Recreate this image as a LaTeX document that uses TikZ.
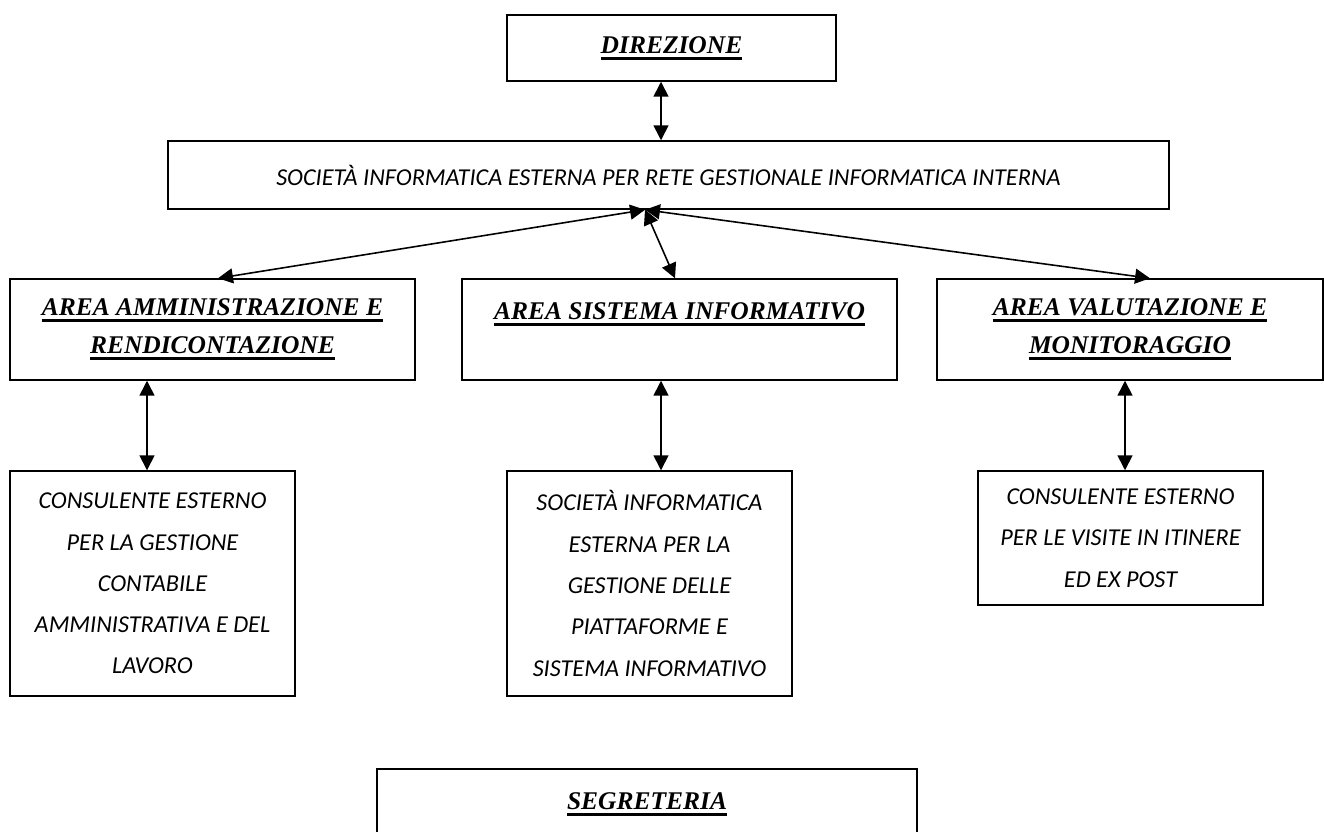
\documentclass[tikz,border=0pt]{standalone}
\usepackage{fontspec}
\setmainfont{Liberation Serif}
\newfontfamily\bodyfont{Carlito}
\usetikzlibrary{arrows.meta}

% thick underline for the titles
\newcommand{\titul}[1]{\setbox0\hbox{#1}\leavevmode\rlap{\rule[-3.7pt]{\wd0}{1.6pt}}\box0}

\begin{document}
\begin{tikzpicture}[x=0.02cm,y=-0.02cm,
    box/.style={draw,line width=0.85pt,inner sep=0pt,align=center},
    title/.style={box,font=\fontsize{14.5}{21.5}\selectfont\bfseries\itshape},
    body/.style={box,font=\bodyfont\itshape\fontsize{13.8}{23.5}\selectfont},
    link/.style={{Triangle[length=8.5pt,width=8.5pt]}-{Triangle[length=8.5pt,width=8.5pt]},line width=0.9pt}]
  \useasboundingbox (0,0) rectangle (1324,831);
  \clip (0,0) rectangle (1324,831);

  % top
  \node[title,minimum width=6.58cm,minimum height=1.32cm] (dir) at (671.5,48) {\titul{DIREZIONE}};
  \node[body,minimum width=20.02cm,minimum height=1.36cm] (soc) at (668.5,175)
       {SOCIETÀ INFORMATICA ESTERNA PER RETE GESTIONALE INFORMATICA INTERNA};

  % areas
  \node[title,minimum width=8.1cm,minimum height=2.02cm] (amm) at (212.5,329.5)
       {\titul{AREA AMMINISTRAZIONE E}\\\titul{RENDICONTAZIONE}};
  \node[title,minimum width=8.7cm,minimum height=2.02cm] (sis) at (679.5,329.5)
       {\titul{AREA SISTEMA INFORMATIVO}\\\mbox{}};
  \node[title,minimum width=7.72cm,minimum height=2.02cm] (val) at (1130,329.5)
       {\titul{AREA VALUTAZIONE E}\\\titul{MONITORAGGIO}};

  % consultants
  \node[body,minimum width=5.7cm,minimum height=4.5cm] (cons) at (152.5,583.5)
       {CONSULENTE ESTERNO\\PER LA GESTIONE\\CONTABILE\\AMMINISTRATIVA E DEL\\LAVORO};
  \node[body,minimum width=5.7cm,minimum height=4.5cm] (piat) at (649.5,583.5)
       {SOCIETÀ INFORMATICA\\ESTERNA PER LA\\GESTIONE DELLE\\PIATTAFORME E\\SISTEMA INFORMATIVO};
  \node[body,minimum width=5.7cm,minimum height=2.68cm] (visi) at (1120.5,538)
       {CONSULENTE ESTERNO\\PER LE VISITE IN ITINERE\\ED EX POST};

  \node[title,minimum width=10.8cm,minimum height=2.02cm] (seg) at (647,819.5)
       {\titul{SEGRETERIA}\\\mbox{}};

  % links
  \coordinate (hub) at ([xshift=-0.47cm]soc.south);
  \draw[link] ([xshift=-0.21cm]dir.south) -- ([xshift=-0.21cm]dir.south |- soc.north);
  \draw[link] (hub) -- ([xshift=0.11cm]amm.north);
  \draw[link] (hub) -- ([xshift=-0.09cm]sis.north);
  \draw[link] (hub) -- ([xshift=0.4cm]val.north);
  \draw[link] ([xshift=-0.11cm]cons.north |- amm.south) -- ([xshift=-0.11cm]cons.north);
  \draw[link] ([xshift=0.23cm]piat.north |- sis.south) -- ([xshift=0.23cm]piat.north);
  \draw[link] ([xshift=0.09cm]visi.north |- val.south) -- ([xshift=0.09cm]visi.north);
\end{tikzpicture}
\end{document}
